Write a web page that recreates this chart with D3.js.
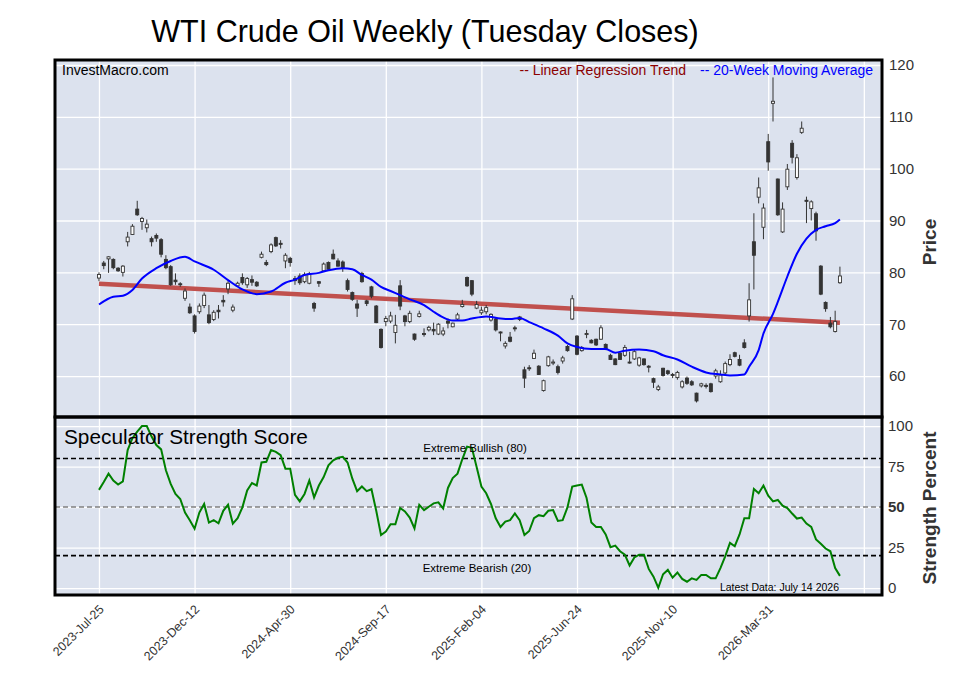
<!DOCTYPE html>
<html>
<head>
<meta charset="utf-8">
<script src="https://cdn.jsdelivr.net/npm/d3@7"></script>
<style>
  body { margin: 0; background: #fff; }
  text { font-family: "Liberation Sans", Arial, sans-serif; }
</style>
</head>
<body>
<svg id="chart" width="957" height="694"></svg>
<script>
// Weekly candles, week 0 = 2023-Jul-25 (Tuesday closes)
const opens = [78.9, 81.8, 82.6, 82.5, 80.8, 80.0, 85.9, 87.3, 92.2, 89.8,
  88.6, 86.5, 87.1, 86.3, 82.5, 81.1, 78.5, 77.8, 75.0, 73.3,
  71.6, 72.4, 73.6, 71.8, 70.9, 72.7, 74.6, 76.8, 72.7, 77.4,
  79.0, 77.6, 78.6, 78.1, 82.9, 81.9, 84.0, 86.7, 85.6, 82.2,
  82.7, 78.8, 79.3, 78.2, 77.9, 74.0, 78.2, 80.3, 81.9, 83.5,
  82.2, 82.0, 78.4, 76.1, 73.9, 79.8, 74.5, 77.2, 73.5, 69.0,
  70.5, 70.6, 68.4, 77.4, 71.6, 70.5, 68.1, 71.5, 68.2, 68.9,
  69.0, 68.1, 68.1, 70.6, 69.5, 71.0, 73.4, 79.0, 78.4, 73.1,
  72.2, 72.4, 70.8, 71.0, 68.5, 65.8, 67.5, 69.3, 71.4, 61.2,
  61.6, 63.4, 61.9, 57.2, 62.0, 62.5, 61.8, 62.9, 65.7, 71.0,
  67.7, 64.9, 68.0, 66.9, 67.1, 67.1, 66.1, 64.0, 63.3, 64.4,
  64.0, 62.7, 63.3, 62.1, 63.3, 61.9, 59.5, 57.4, 61.5, 61.0,
  60.3, 59.7, 57.9, 59.6, 58.9, 56.7, 58.1, 58.2, 58.5, 60.0,
  58.9, 60.6, 62.2, 64.5, 63.2, 66.4, 71.6, 85.9, 94.5, 88.7,
  105.2, 112.6, 98.0, 87.8, 96.5, 104.9, 98.3, 107.0, 93.9, 92.3,
  91.3, 81.2, 74.2, 70.2, 68.6, 78.0];
const highs = [80.0, 82.2, 83.1, 82.7, 81.0, 81.4, 87.8, 89.3, 93.8, 90.7,
  90.2, 86.9, 87.5, 86.6, 83.3, 81.4, 79.8, 78.1, 76.9, 74.0,
  71.9, 74.0, 76.1, 73.7, 72.7, 73.7, 75.6, 78.3, 73.8, 78.2,
  79.8, 79.1, 79.4, 78.3, 84.0, 82.4, 85.6, 86.9, 86.2, 83.7,
  83.0, 79.3, 79.8, 80.0, 80.1, 74.3, 78.3, 81.9, 82.1, 84.4,
  82.7, 82.3, 78.8, 76.3, 74.7, 80.1, 74.7, 77.4, 73.7, 69.2,
  71.6, 72.4, 71.8, 78.5, 71.8, 72.6, 68.2, 72.6, 69.2, 69.7,
  70.3, 70.2, 69.4, 71.1, 70.3, 72.2, 74.7, 79.2, 78.5, 74.5,
  73.4, 73.7, 72.1, 71.3, 68.6, 66.7, 68.5, 69.7, 71.6, 61.8,
  62.1, 65.1, 62.1, 59.3, 63.9, 63.2, 62.2, 63.9, 66.0, 75.6,
  67.9, 65.8, 68.9, 67.1, 67.2, 69.8, 66.3, 64.3, 63.4, 64.7,
  66.0, 64.7, 65.0, 63.7, 63.4, 62.1, 59.7, 58.3, 61.6, 61.2,
  60.6, 61.0, 59.2, 59.9, 59.2, 56.8, 58.7, 58.6, 58.7, 61.4,
  61.1, 62.8, 64.2, 64.7, 64.1, 67.1, 77.9, 91.4, 98.3, 93.3,
  106.7, 117.6, 98.1, 93.5, 100.9, 105.5, 102.8, 109.1, 94.6, 93.9,
  91.7, 81.4, 74.4, 71.4, 72.6, 81.1];
const lows = [78.3, 80.6, 79.9, 80.6, 80.1, 79.2, 85.0, 87.2, 90.9, 88.2,
  87.7, 85.0, 85.9, 82.9, 80.6, 77.4, 77.6, 77.2, 74.5, 72.0,
  68.2, 72.0, 73.1, 70.0, 70.6, 71.1, 73.4, 75.8, 72.3, 77.2,
  77.6, 77.0, 77.4, 77.2, 82.7, 81.2, 83.7, 84.9, 84.6, 80.8,
  81.1, 77.6, 77.6, 77.9, 77.7, 72.4, 77.2, 80.1, 80.3, 82.5,
  81.1, 80.1, 76.3, 74.5, 71.4, 78.0, 73.5, 75.0, 70.2, 65.3,
  69.6, 70.2, 66.3, 72.7, 69.6, 70.2, 66.8, 71.3, 67.6, 68.6,
  67.9, 67.9, 67.7, 69.2, 69.4, 70.8, 73.2, 77.2, 75.4, 72.9,
  71.8, 71.9, 70.5, 68.6, 66.7, 65.3, 66.5, 68.6, 70.6, 57.7,
  61.0, 63.3, 60.2, 57.0, 61.8, 62.1, 60.3, 62.4, 64.7, 70.8,
  64.0, 64.7, 67.3, 66.3, 65.8, 67.0, 65.0, 63.1, 62.1, 63.1,
  63.7, 62.4, 63.1, 61.8, 62.0, 60.7, 57.7, 57.1, 59.9, 60.2,
  59.6, 59.3, 57.6, 58.3, 58.1, 54.9, 57.8, 57.6, 56.8, 59.5,
  58.7, 60.4, 61.9, 63.6, 61.9, 65.3, 70.5, 76.7, 93.3, 86.4,
  99.6, 109.1, 90.9, 87.6, 95.9, 101.0, 97.9, 106.7, 89.5, 90.0,
  86.1, 75.6, 72.4, 69.2, 68.4, 77.8];
const closes = [79.6, 81.3, 83.0, 80.9, 80.3, 81.2, 86.8, 88.9, 91.1, 90.4,
  89.3, 85.9, 86.6, 83.5, 80.9, 77.6, 78.2, 77.7, 76.4, 72.2,
  68.6, 73.5, 75.6, 70.3, 72.3, 72.4, 74.3, 77.9, 73.3, 77.9,
  78.0, 78.8, 78.1, 77.4, 83.5, 81.5, 85.3, 85.1, 85.4, 83.3,
  81.9, 78.4, 78.0, 79.6, 79.7, 73.1, 77.9, 81.6, 80.6, 82.6,
  81.2, 80.8, 76.7, 74.8, 73.1, 78.2, 74.0, 75.4, 70.3, 65.5,
  71.1, 71.6, 69.8, 73.5, 70.5, 72.1, 67.1, 72.0, 68.0, 69.4,
  68.7, 70.0, 68.7, 70.2, 70.2, 71.8, 73.8, 77.4, 75.8, 73.8,
  72.7, 73.2, 71.9, 68.9, 68.3, 66.3, 66.7, 69.1, 70.9, 59.6,
  61.4, 64.4, 60.3, 59.1, 63.7, 62.7, 60.7, 63.5, 64.9, 74.9,
  64.2, 65.5, 68.2, 66.4, 66.0, 69.3, 65.2, 63.2, 62.2, 63.2,
  65.5, 62.6, 64.7, 63.5, 62.2, 61.7, 58.8, 57.9, 60.1, 60.5,
  60.1, 60.7, 58.9, 58.6, 58.3, 55.2, 58.5, 58.0, 57.0, 61.0,
  60.2, 62.4, 63.2, 63.8, 62.1, 65.5, 74.7, 83.3, 96.3, 92.4,
  101.3, 113.0, 91.1, 92.2, 99.9, 102.2, 102.1, 107.8, 93.7, 93.6,
  88.0, 75.8, 73.0, 69.5, 70.5, 79.3];

// 20-week moving average, read at these weeks
const maWeeks = [0, 3, 5, 7, 9, 12, 15, 18, 20, 24, 27, 30, 33, 36, 39, 41, 43, 46, 48, 51,
  53, 55, 57, 59, 61, 63, 65, 68, 70, 72, 74, 76, 78, 81, 84, 86, 88, 90, 93, 96,
  98, 100, 103, 106, 108, 110, 113, 116, 118, 121, 124, 127, 130, 132, 135, 136, 138, 139, 141, 142,
  144, 146, 148, 150, 152, 154, 155];
const maValues = [73.8, 75.3, 75.5, 76.6, 78.8, 80.8, 82.2, 83.0, 82.1, 80.5, 78.5, 76.7, 75.8, 76.3, 78.0, 78.6, 79.5, 79.9, 80.4, 80.8,
  80.6, 79.5, 78.6, 77.2, 76.4, 75.6, 74.8, 73.7, 72.4, 71.3, 70.7, 70.7, 71.1, 71.5, 71.1, 71.0, 71.2, 70.4, 69.2, 67.8,
  66.3, 65.6, 65.2, 65.2, 64.5, 64.9, 65.1, 64.8, 64.0, 63.2, 61.8, 60.7, 60.3, 60.1, 60.3, 61.8, 65.0, 68.2, 72.0, 74.3,
  79.2, 83.6, 86.5, 88.2, 88.9, 89.5, 90.2];

// linear regression trend, first and last week
const trendWeeks = [0, 155];
const trendValues = [77.8, 70.3];

// speculator strength score (percent), one per week
const strength = [60.6, 65.4, 70.6, 66.4, 63.9, 65.8, 85.2, 92.5, 96.6, 100,
  100, 93.5, 88.3, 85.6, 72.7, 64.3, 58.1, 55.0, 46.6, 41.9,
  36.6, 46.6, 51.9, 40.4, 41.9, 40.0, 47.7, 51.4, 39.8, 43.1,
  49.8, 60.2, 64.8, 63.3, 77.5, 77.9, 85.2, 84.1, 82.1, 73.7,
  73.7, 57.5, 53.5, 58.1, 66.4, 56.0, 63.3, 68.5, 75.8, 78.9,
  80.4, 81.0, 77.5, 67.5, 59.8, 62.7, 59.8, 61.0, 47.7, 32.7,
  34.8, 39.4, 39.4, 49.4, 47.3, 43.5, 36.8, 51.4, 48.1, 50.2,
  52.3, 52.9, 49.1, 61.8, 67.9, 70.6, 79.5, 87.3, 86.6, 74.8,
  62.7, 58.5, 51.9, 43.1, 37.7, 41.0, 41.9, 46.0, 41.9, 32.7,
  35.2, 43.1, 45.0, 44.4, 47.7, 48.1, 41.4, 41.9, 49.8, 62.7,
  63.3, 63.9, 55.6, 40.4, 37.7, 37.7, 33.1, 25.2, 26.2, 22.7,
  20.6, 13.9, 18.9, 20.6, 20.6, 11.8, 7.0, 0.2, 8.5, 11.2,
  6.4, 9.6, 5.6, 3.9, 6.0, 5.0, 8.1, 8.1, 6.0, 6.0,
  12.3, 19.6, 27.9, 25.8, 33.1, 43.1, 43.1, 61.2, 58.5, 63.3,
  57.0, 53.5, 54.4, 50.8, 49.4, 46.0, 42.9, 43.5, 39.8, 37.7,
  30.0, 27.3, 24.4, 22.7, 12.3, 7.5];

const tickWeeks = [0, 20, 40, 60, 80, 100, 120, 140];
const gridWeeks = [0, 20, 40, 60, 80, 100, 120, 140, 160];
const tickLabels = ['2023-Jul-25', '2023-Dec-12', '2024-Apr-30', '2024-Sep-17',
  '2025-Feb-04', '2025-Jun-24', '2025-Nov-10', '2026-Mar-31'];
const priceTicks = [60, 70, 80, 90, 100, 110, 120];
const strengthTicks = [0, 25, 50, 75, 100];
const extremeLevels = [80, 20];

// Panel layout
const left = 55, right = 882;
const top1 = 60, bot1 = 417, top2 = 417, bot2 = 595;
const bg = '#dce2ee';

const svg = d3.select('#chart');

const x = d3.scaleLinear().domain([-9.2, 163.8]).range([left, right]);
const yPrice = d3.scaleLinear().domain([52.1, 120.96]).range([bot1, top1]);
const yStr = d3.scaleLinear().domain([-4.3, 105.6]).range([bot2, top2]);

svg.append('rect').attr('width', 957).attr('height', 694).attr('fill', '#fff');

// Panel backgrounds
svg.append('rect').attr('x', left).attr('y', top1).attr('width', right - left).attr('height', bot1 - top1).attr('fill', bg);
svg.append('rect').attr('x', left).attr('y', top2).attr('width', right - left).attr('height', bot2 - top2).attr('fill', bg);

// Grids
function grid(g) {
  g.select('.domain').remove();
  g.selectAll('line').attr('stroke', '#fff').attr('stroke-width', 1.3);
}
svg.append('g')
  .attr('transform', `translate(0, ${bot1})`)
  .call(d3.axisBottom(x).tickValues(gridWeeks).tickSize(-(bot1 - top1)).tickFormat(''))
  .call(grid);
svg.append('g')
  .attr('transform', `translate(0, ${bot2})`)
  .call(d3.axisBottom(x).tickValues(gridWeeks).tickSize(-(bot2 - top2)).tickFormat(''))
  .call(grid);
svg.append('g')
  .attr('transform', `translate(${left}, 0)`)
  .call(d3.axisLeft(yPrice).tickValues(priceTicks).tickSize(-(right - left)).tickFormat(''))
  .call(grid);
svg.append('g')
  .attr('transform', `translate(${left}, 0)`)
  .call(d3.axisLeft(yStr).tickValues(strengthTicks).tickSize(-(right - left)).tickFormat(''))
  .call(grid);

svg.append('clipPath').attr('id', 'clip1')
  .append('rect').attr('x', left).attr('y', top1).attr('width', right - left).attr('height', bot1 - top1);
svg.append('clipPath').attr('id', 'clip2')
  .append('rect').attr('x', left).attr('y', top2).attr('width', right - left).attr('height', bot2 - top2);

const upper = svg.append('g').attr('clip-path', 'url(#clip1)');
const lower = svg.append('g').attr('clip-path', 'url(#clip2)');

// Regression trend
upper.append('path')
  .datum(trendWeeks.map((w, i) => [w, trendValues[i]]))
  .attr('fill', 'none')
  .attr('stroke', '#c0504d')
  .attr('stroke-width', 4.5)
  .attr('d', d3.line().x(d => x(d[0])).y(d => yPrice(d[1])));

// Candles
const candles = opens.map((o, i) => ({ i, o, h: highs[i], l: lows[i], c: closes[i] }));
const bodyW = 3;
const cg = upper.selectAll('.candle').data(candles).enter().append('g').attr('class', 'candle');
cg.append('line')
  .attr('x1', d => x(d.i)).attr('x2', d => x(d.i))
  .attr('y1', d => yPrice(d.h)).attr('y2', d => yPrice(d.l))
  .attr('stroke', '#333').attr('stroke-width', 1);
cg.append('rect')
  .attr('x', d => x(d.i) - bodyW / 2)
  .attr('y', d => yPrice(Math.max(d.o, d.c)))
  .attr('width', bodyW)
  .attr('height', d => Math.max(1, Math.abs(yPrice(d.o) - yPrice(d.c))))
  .attr('fill', d => d.c >= d.o ? '#fff' : '#333')
  .attr('stroke', '#333').attr('stroke-width', 0.9);

// Moving average
upper.append('path')
  .datum(maWeeks.map((w, i) => [w, maValues[i]]))
  .attr('fill', 'none')
  .attr('stroke', '#0000ff')
  .attr('stroke-width', 2)
  .attr('d', d3.line().curve(d3.curveMonotoneX).x(d => x(d[0])).y(d => yPrice(d[1])));

// Lower panel reference lines
lower.append('line')
  .attr('x1', left).attr('x2', right)
  .attr('y1', yStr(50)).attr('y2', yStr(50))
  .attr('stroke', '#808080').attr('stroke-width', 1.6).attr('stroke-dasharray', '5,3');
lower.selectAll('.extreme').data(extremeLevels).enter().append('line')
  .attr('x1', left).attr('x2', right)
  .attr('y1', d => yStr(d)).attr('y2', d => yStr(d))
  .attr('stroke', '#000').attr('stroke-width', 1.6).attr('stroke-dasharray', '5,3');

lower.append('path')
  .datum(strength)
  .attr('fill', 'none')
  .attr('stroke', '#008000')
  .attr('stroke-width', 2)
  .attr('d', d3.line().x((d, i) => x(i)).y(d => yStr(d)));

// Panel frames
[[top1, bot1], [top2, bot2]].forEach(([t, b]) => {
  svg.append('rect').attr('x', left).attr('y', t).attr('width', right - left).attr('height', b - t)
    .attr('fill', 'none').attr('stroke', '#000').attr('stroke-width', 3);
});

// Axes
function plain(g) {
  g.select('.domain').remove();
  g.selectAll('text').attr('fill', '#333').style('font-size', '15px');
}
svg.append('g')
  .attr('transform', `translate(${right}, 0)`)
  .call(d3.axisRight(yPrice).tickValues(priceTicks).tickSize(0).tickPadding(7))
  .call(plain);
svg.append('g')
  .attr('transform', `translate(${right}, 0)`)
  .call(d3.axisRight(yStr).tickValues(strengthTicks).tickSize(0).tickPadding(6))
  .call(plain)
  .selectAll('text').style('font-weight', d => d === 50 ? 'bold' : 'normal');

const xAxis = svg.append('g')
  .attr('transform', `translate(0, ${bot2})`)
  .call(d3.axisBottom(x).tickValues(tickWeeks).tickSize(0).tickFormat((d, i) => tickLabels[i]));
xAxis.select('.domain').remove();
xAxis.selectAll('text')
  .attr('y', 0).attr('dy', '0.35em')
  .attr('transform', 'translate(2, 12) rotate(-45)')
  .attr('text-anchor', 'end')
  .attr('fill', '#333')
  .style('font-size', '12.5px');

// Titles and labels
svg.append('text').attr('x', 425).attr('y', 42).attr('text-anchor', 'middle')
  .style('font-size', '30.5px').attr('fill', '#000')
  .text('WTI Crude Oil Weekly (Tuesday Closes)');
svg.append('text').attr('x', 62).attr('y', 75).style('font-size', '14px').attr('fill', '#000')
  .text('InvestMacro.com');
svg.append('text').attr('x', 686).attr('y', 75).attr('text-anchor', 'end').style('font-size', '14px').attr('fill', '#8b0000')
  .text('-- Linear Regression Trend');
svg.append('text').attr('x', 873).attr('y', 75).attr('text-anchor', 'end').style('font-size', '14px').attr('fill', '#0000ff')
  .text('-- 20-Week Moving Average');
svg.append('text').attr('x', 64).attr('y', 444).style('font-size', '20.8px').attr('fill', '#000')
  .text('Speculator Strength Score');
svg.append('text').attr('x', 475).attr('y', 452).attr('text-anchor', 'middle').style('font-size', '11.5px').attr('fill', '#000')
  .text('Extreme Bullish (80)');
svg.append('text').attr('x', 477).attr('y', 572).attr('text-anchor', 'middle').style('font-size', '11.5px').attr('fill', '#000')
  .text('Extreme Bearish (20)');
svg.append('text').attr('x', 839).attr('y', 591).attr('text-anchor', 'end').style('font-size', '10.5px').attr('fill', '#000')
  .text('Latest Data: July 14 2026');

svg.append('text').attr('transform', 'translate(936, 242) rotate(-90)')
  .attr('text-anchor', 'middle').style('font-size', '19px').style('font-weight', 'bold').attr('fill', '#333')
  .text('Price');
svg.append('text').attr('transform', 'translate(936, 508) rotate(-90)')
  .attr('text-anchor', 'middle').style('font-size', '19px').style('font-weight', 'bold').attr('fill', '#333')
  .text('Strength Percent');
</script>
</body>
</html>
